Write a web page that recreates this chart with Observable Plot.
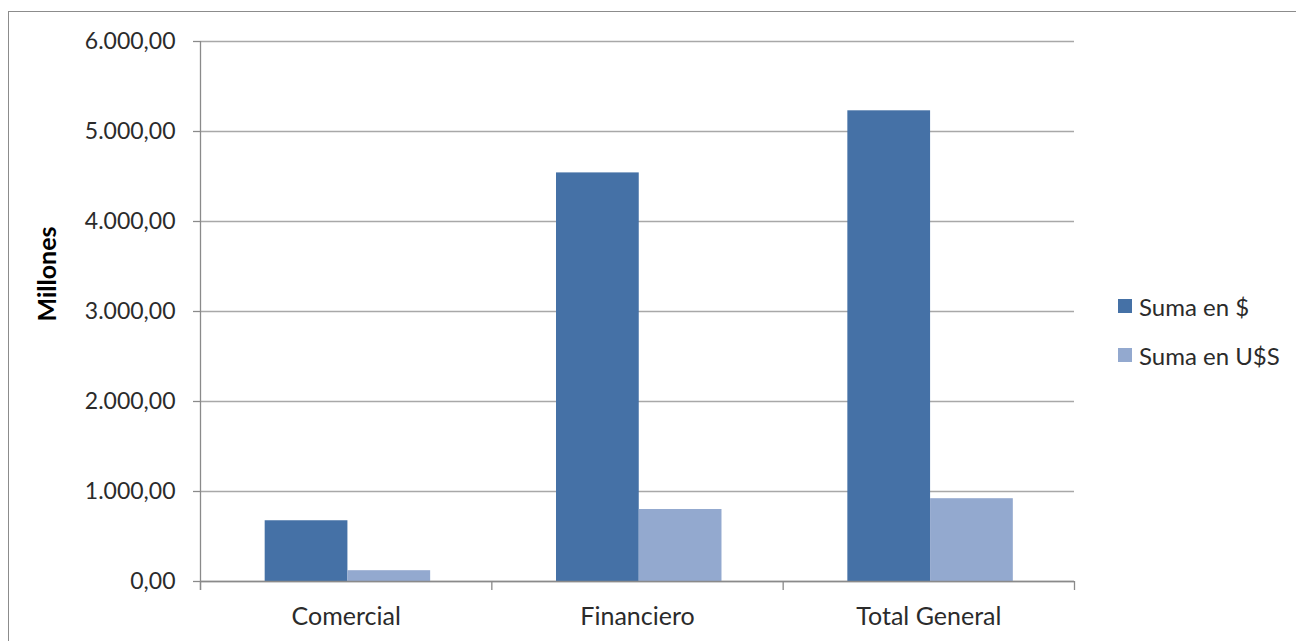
<!DOCTYPE html>
<html>
<head>
<meta charset="utf-8">
<script src="https://cdn.jsdelivr.net/npm/d3@7"></script>
<script src="https://cdn.jsdelivr.net/npm/@observablehq/plot@0.6"></script>
<style>
  html, body { margin: 0; padding: 0; background: #fff; }
  #wrap { position: relative; width: 1296px; height: 641px; overflow: hidden; font-family: Lato, sans-serif; }
  #border { position: absolute; left: 8px; top: 11px; width: 1400px; height: 700px; border-top: 1.5px solid #8c8c8c; border-left: 1.5px solid #8c8c8c; box-sizing: border-box; }
  #chart { position: absolute; left: 0; top: 0; }
  #legend { position: absolute; left: 1118px; top: 293px; font-size: 24px; color: #2b2b2b; }
  .row { display: flex; align-items: center; height: 26px; margin-bottom: 23px; }
  .sw { width: 14px; height: 14px; margin-right: 7px; }
</style>
</head>
<body>
<div id="wrap">
  <div id="border"></div>
  <div id="chart"></div>
  <div id="legend"></div>
</div>
<script>
const categories = ["Comercial", "Financiero", "Total General"];
const seriesNames = ["Suma en $", "Suma en U$S"];
const sumaPesos = [675, 4540, 5230];
const sumaDolares = [120, 800, 920];
const yTicks = [0, 1000, 2000, 3000, 4000, 5000, 6000];
const colors = ["#4571a6", "#93a9cf"];

const loc = d3.formatLocale({decimal: ",", thousands: ".", grouping: [3], currency: ["$", ""]});
const fmt = loc.format(",.2f");

const rows = [];
categories.forEach((c, i) => {
  rows.push({category: c, i, series: seriesNames[0], s: 0, value: sumaPesos[i]});
  rows.push({category: c, i, series: seriesNames[1], s: 1, value: sumaDolares[i]});
});

// group layout within each category band
const groupStart = 0.222, barW = 0.284;

const axisColor = "#8a8a8a";
const gridColor = "#a8a8a8";
const textColor = "#2b2b2b";

const plot = Plot.plot({
  width: 1296,
  height: 641,
  marginLeft: 200,
  marginRight: 222,
  marginTop: 41,
  marginBottom: 60,
  style: {fontFamily: "Lato, sans-serif", fontSize: "23px", color: textColor, background: "transparent"},
  x: {domain: [0, categories.length], axis: null},
  y: {domain: [0, 6000], axis: null},
  marks: [
    Plot.gridY(yTicks, {stroke: gridColor, strokeOpacity: 1, strokeWidth: 1.3}),
    Plot.rectY(rows, {
      x1: d => d.i + groupStart + d.s * barW,
      x2: d => d.i + groupStart + (d.s + 1) * barW,
      y1: 0,
      y2: "value",
      fill: d => colors[d.s]
    }),
    Plot.ruleY([0], {stroke: axisColor, strokeWidth: 1.3}),
    Plot.ruleX([0], {stroke: axisColor, strokeWidth: 1.3, insetBottom: -9}),
    Plot.axisY(yTicks, {tickSize: 7, tickPadding: 18, tickFormat: fmt, stroke: axisColor, fill: textColor, strokeWidth: 1.3, label: null}),
    Plot.axisX(d3.range(categories.length + 1), {tickSize: 9, tickFormat: () => "", stroke: axisColor, strokeWidth: 1.3, label: null}),
    Plot.axisX(categories.map((c, i) => i + 0.5), {tickSize: 0, tickPadding: 26, fontSize: 25, tickFormat: d => categories[Math.floor(d)], fill: textColor, label: null}),
    Plot.text(["Millones"], {frameAnchor: "left", rotate: -90, dx: -153, dy: 10, fontWeight: "bold", fontSize: 25, fill: "#000"})
  ]
});
document.getElementById("chart").appendChild(plot);

const legend = document.getElementById("legend");
seriesNames.forEach((n, i) => {
  const r = document.createElement("div");
  r.className = "row";
  r.innerHTML = `<div class="sw" style="background:${colors[i]}"></div><span>${n}</span>`;
  legend.appendChild(r);
});
</script>
</body>
</html>
